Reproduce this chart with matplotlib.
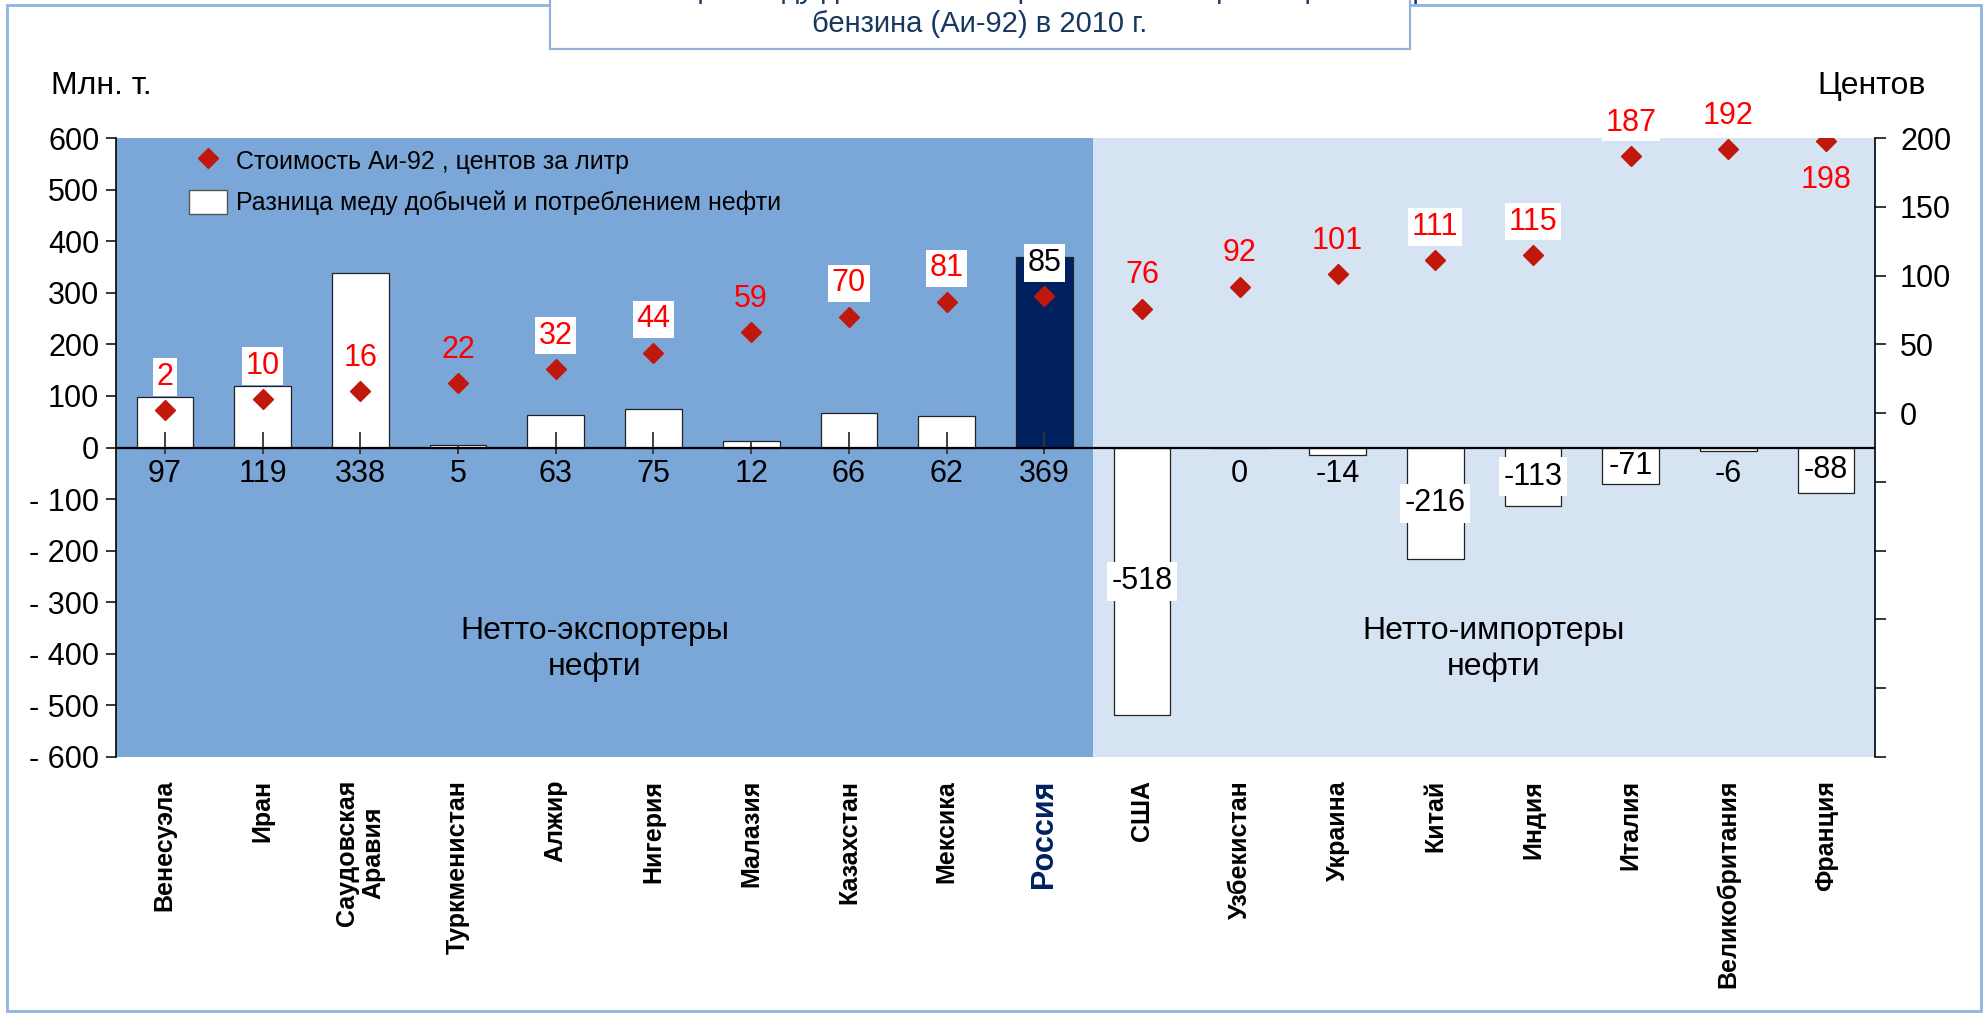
import numpy as np
import matplotlib
matplotlib.use('Agg')
import matplotlib.pyplot as plt
import matplotlib.transforms as mtransforms
from matplotlib.patches import Rectangle, Patch
from matplotlib.lines import Line2D
from matplotlib.ticker import FuncFormatter, MultipleLocator

plt.rcParams['font.family'] = ['Liberation Sans', 'DejaVu Sans']

countries = ['Венесуэла', 'Иран', 'Саудовская\nАравия', 'Туркменистан', 'Алжир',
             'Нигерия', 'Малазия', 'Казахстан', 'Мексика', 'Россия', 'США',
             'Узбекистан', 'Украина', 'Китай', 'Индия', 'Италия',
             'Великобритания', 'Франция']
# production minus consumption, mln t
balance = [97, 119, 338, 5, 63, 75, 12, 66, 62, 369,
           -518, 0, -14, -216, -113, -71, -6, -88]
# Ai-92 price, cents per litre
price = [2, 10, 16, 22, 32, 44, 59, 70, 81, 85,
         76, 92, 101, 111, 115, 187, 192, 198]
n_exporters = 10

# which price labels sit on a white box
price_boxed = [True, True, False, False, True, True, False, True, True, True,
               False, False, False, True, True, True, False, False]

W, H = 1988, 1016
DARK = '#7BA7D8'
LIGHT = '#D6E3F2'
NAVY = '#002060'
MARK = '#C0180C'
FS = 22

fig = plt.figure(figsize=(W / 100, H / 100), dpi=100)
ax = fig.add_axes([116 / W, 1 - 757 / H, (1875 - 116) / W, (757 - 138) / H])

x = np.arange(len(countries))
ax.set_xlim(-0.5, len(countries) - 0.5)
ax.set_ylim(-600, 600)
ax.axvspan(-0.5, n_exporters - 0.5, color=DARK, lw=0, zorder=0)
ax.axvspan(n_exporters - 0.5, len(countries) - 0.5, color=LIGHT, lw=0, zorder=0)

colors = ['white'] * len(countries)
colors[countries.index('Россия')] = NAVY
ax.bar(x, balance, width=0.58, color=colors, edgecolor='#222222', linewidth=0.9, zorder=2)
ax.vlines(x[:n_exporters], -12, np.minimum(balance[:n_exporters], 31),
          color='#333333', lw=1.3, zorder=3)
ax.axhline(0, color='black', lw=1.6, zorder=4)

for s in ['top', 'bottom', 'right']:
    ax.spines[s].set_visible(False)
ax.spines['left'].set_linewidth(1.2)
ax.set_xticks([])
ax.yaxis.set_major_locator(MultipleLocator(100))
ax.yaxis.set_major_formatter(FuncFormatter(lambda v, p: '- %d' % -v if v < 0 else '%d' % v))
ax.tick_params(axis='y', direction='out', length=7, width=1.1, labelsize=FS, pad=5)

for xi, v in zip(x, balance):
    y = v / 2 if v < -50 else -52
    box = dict(boxstyle='square,pad=0.15', fc='white', ec='none') if v < -100 else None
    ax.text(xi, y, str(v), ha='center', va='center', fontsize=FS, bbox=box, zorder=5)

ax.text(4.4, -390, 'Нетто-экспортеры\nнефти', ha='center', va='center', fontsize=23, linespacing=1.25)
ax.text(13.6, -390, 'Нетто-импортеры\nнефти', ha='center', va='center', fontsize=23, linespacing=1.25)

# country names under the plot
trans = mtransforms.blended_transform_factory(ax.transData, fig.transFigure)
for xi, name in zip(x, countries):
    if name == 'Россия':
        ax.text(xi, 1 - 780 / H, name, transform=trans, rotation=90, ha='center', va='top',
                fontsize=22, fontweight='bold', color=NAVY)
    else:
        ax.text(xi, 1 - 780 / H, name, transform=trans, rotation=90, ha='center', va='top',
                fontsize=18, fontweight='bold', multialignment='center', linespacing=1.15)

# price axis
ax2 = ax.twinx()
ax2.set_ylim(-250, 200)
for s in ['top', 'bottom', 'left']:
    ax2.spines[s].set_visible(False)
ax2.spines['right'].set_linewidth(1.2)
ax2.yaxis.set_major_locator(MultipleLocator(50))
ax2.yaxis.set_major_formatter(FuncFormatter(lambda v, p: '%d' % v if v >= 0 else ''))
ax2.tick_params(axis='y', direction='out', length=8, width=1.1, labelsize=FS, pad=10)
ax2.plot(x, price, 'D', color=MARK, ms=10, ls='none', zorder=5)

for i, (xi, p) in enumerate(zip(x, price)):
    off = -28 if p >= 195 else 24
    col = 'black' if countries[i] == 'Россия' else 'red'
    box = dict(boxstyle='square,pad=0.12', fc='white', ec='none') if price_boxed[i] else None
    ax2.annotate(str(p), (xi, p), xytext=(0, off), textcoords='offset points',
                 ha='center', va='center', fontsize=FS, color=col, bbox=box,
                 annotation_clip=False, zorder=6)

handles = [Line2D([], [], marker='D', color=MARK, ls='none', ms=10),
           Patch(facecolor='white', edgecolor='#555555', linewidth=1)]
labels = ['Стоимость Аи-92 , центов за литр', 'Разница меду добычей и потреблением нефти']
ax2.legend(handles, labels, loc='upper left', bbox_to_anchor=(189 / W, 1 - 148 / H),
           bbox_transform=fig.transFigure, frameon=False, fontsize=18,
           handlelength=1.5, handleheight=1.1, handletextpad=0.4, labelspacing=0.65,
           borderpad=0, borderaxespad=0)

fig.text(51 / W, 1 - 86 / H, 'Млн. т.', fontsize=23, ha='left', va='center')
fig.text(1872 / W, 1 - 86 / H, 'Центов', fontsize=23, ha='center', va='center')

# outer frame and title box (first title line is cut off at the top edge)
fig.add_artist(Rectangle((7 / W, 1 - 1011 / H), (1981 - 7) / W, (1011 - 5) / H,
                         transform=fig.transFigure, fill=False, ec='#8DB4E2', lw=2, zorder=0))
fig.add_artist(Rectangle((550 / W, 1 - 49 / H), 860 / W, 0.2, transform=fig.transFigure,
                         fc='white', ec='#95B3D7', lw=1.6, zorder=10))
fig.text(1025 / W, 1 + 2 / H, 'Разница между добычей и потреблением нефти и цена литра',
         fontsize=21, color='#17375E', ha='center', va='baseline', zorder=11)
fig.text(980 / W, 1 - 24 / H, 'бензина (Аи-92) в 2010 г.', fontsize=21,
         color='#17375E', ha='center', va='center', zorder=11)

fig.savefig('out.png', dpi=100)
